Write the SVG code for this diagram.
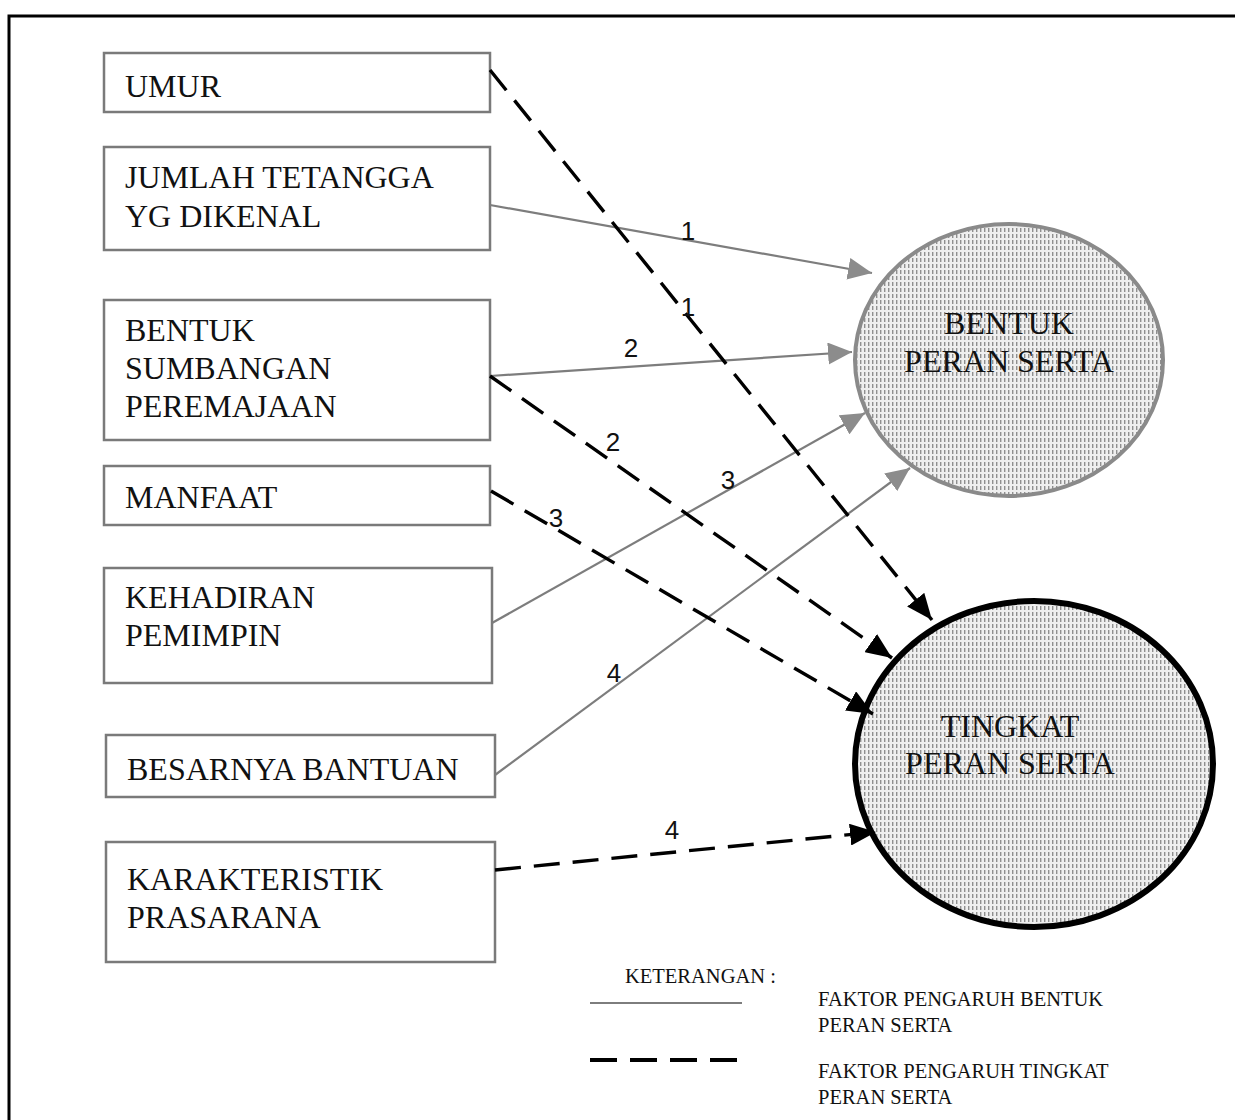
<svg xmlns="http://www.w3.org/2000/svg" width="1235" height="1120" viewBox="0 0 1235 1120">
<defs>
<style>
.box{fill:#fff;stroke:#7a7a7a;stroke-width:2.5}
.bt{font-family:"Liberation Serif","Times New Roman",serif;font-size:32px;fill:#111}
.et{font-family:"Liberation Serif","Times New Roman",serif;font-size:32px;fill:#111;text-anchor:middle}
.num{font-family:"Liberation Sans",Arial,sans-serif;font-size:26px;fill:#111;text-anchor:middle}
.lg{font-family:"Liberation Serif","Times New Roman",serif;font-size:20.5px;fill:#111}
.sol{fill:none;stroke:#7d7d7d;stroke-width:2.2}
.dash{fill:none;stroke:#000;stroke-width:3.4;stroke-dasharray:26 13}
</style>
<pattern id="hatch" width="4" height="6" patternUnits="userSpaceOnUse">
<rect width="4" height="6" fill="#efefef"/>
<rect x="0" y="0" width="1.4" height="4" fill="#8f8f8f"/>
</pattern>
<marker id="ag" markerUnits="userSpaceOnUse" markerWidth="26" markerHeight="22" refX="24" refY="11" orient="auto">
<path d="M0,0 L24,11 L0,22 Z" fill="#8c8c8c"/>
</marker>
<marker id="ab" markerUnits="userSpaceOnUse" markerWidth="28" markerHeight="22" refX="26" refY="11" orient="auto">
<path d="M0,0 L26,11 L0,22 Z" fill="#000"/>
</marker>
</defs>
<rect width="1235" height="1120" fill="#fff"/>
<rect x="9" y="16" width="1240" height="1120" fill="none" stroke="#000" stroke-width="3"/>

<g id="n-umur"><rect class="box" x="104" y="53" width="386" height="59"/><text class="bt" x="125" y="97">UMUR</text></g>
<g id="n-jumlah"><rect class="box" x="104" y="147" width="386" height="103"/><text class="bt" x="125" y="188">JUMLAH TETANGGA</text><text class="bt" x="125" y="227">YG DIKENAL</text></g>
<g id="n-bentuk-sumbangan"><rect class="box" x="104" y="300" width="386" height="140"/><text class="bt" x="125" y="341">BENTUK</text><text class="bt" x="125" y="379">SUMBANGAN</text><text class="bt" x="125" y="417">PEREMAJAAN</text></g>
<g id="n-manfaat"><rect class="box" x="104" y="466" width="386" height="59"/><text class="bt" x="125" y="508">MANFAAT</text></g>
<g id="n-kehadiran"><rect class="box" x="104" y="568" width="388" height="115"/><text class="bt" x="125" y="608">KEHADIRAN</text><text class="bt" x="125" y="646">PEMIMPIN</text></g>
<g id="n-besarnya"><rect class="box" x="106" y="735" width="389" height="62"/><text class="bt" x="127" y="780">BESARNYA BANTUAN</text></g>
<g id="n-karakteristik"><rect class="box" x="106" y="842" width="389" height="120"/><text class="bt" x="127" y="890">KARAKTERISTIK</text><text class="bt" x="127" y="928">PRASARANA</text></g>

<g id="n-bentuk-peran"><ellipse cx="1009" cy="360" rx="154" ry="136" fill="url(#hatch)" stroke="#8a8a8a" stroke-width="4"/><text class="et" x="1009" y="334">BENTUK</text><text class="et" x="1009" y="372">PERAN SERTA</text></g>
<g id="n-tingkat-peran"><ellipse cx="1034" cy="764" rx="179" ry="163" fill="url(#hatch)" stroke="#000" stroke-width="6"/><text class="et" x="1010" y="737">TINGKAT</text><text class="et" x="1010" y="774">PERAN SERTA</text></g>

<g id="connectors">
<path class="sol" d="M490,205 L872,273" marker-end="url(#ag)"/>
<path class="sol" d="M490,376 L852,352" marker-end="url(#ag)"/>
<path class="sol" d="M492,623 L865,413" marker-end="url(#ag)"/>
<path class="sol" d="M495,775 L910,468" marker-end="url(#ag)"/>
<path class="dash" d="M490,70 L932,620" marker-end="url(#ab)"/>
<path class="dash" d="M490,376 L892,658" marker-end="url(#ab)"/>
<path class="dash" d="M491,491 L873,714" marker-end="url(#ab)"/>
<path class="dash" d="M495,870 L876,832" marker-end="url(#ab)"/>
<text class="num" x="688" y="240">1</text>
<text class="num" x="688" y="316">1</text>
<text class="num" x="631" y="357">2</text>
<text class="num" x="613" y="451">2</text>
<text class="num" x="728" y="489">3</text>
<text class="num" x="556" y="527">3</text>
<text class="num" x="614" y="682">4</text>
<text class="num" x="672" y="839">4</text>
</g>

<g id="legend">
<text class="lg" x="625" y="983">KETERANGAN :</text>
<line x1="590" y1="1003" x2="742" y2="1003" stroke="#7d7d7d" stroke-width="2"/>
<line x1="590" y1="1060" x2="742" y2="1060" stroke="#000" stroke-width="4" stroke-dasharray="27 13"/>
<text class="lg" x="818" y="1006">FAKTOR PENGARUH BENTUK</text>
<text class="lg" x="818" y="1032">PERAN SERTA</text>
<text class="lg" x="818" y="1078">FAKTOR PENGARUH TINGKAT</text>
<text class="lg" x="818" y="1104">PERAN SERTA</text>
</g>
</svg>
